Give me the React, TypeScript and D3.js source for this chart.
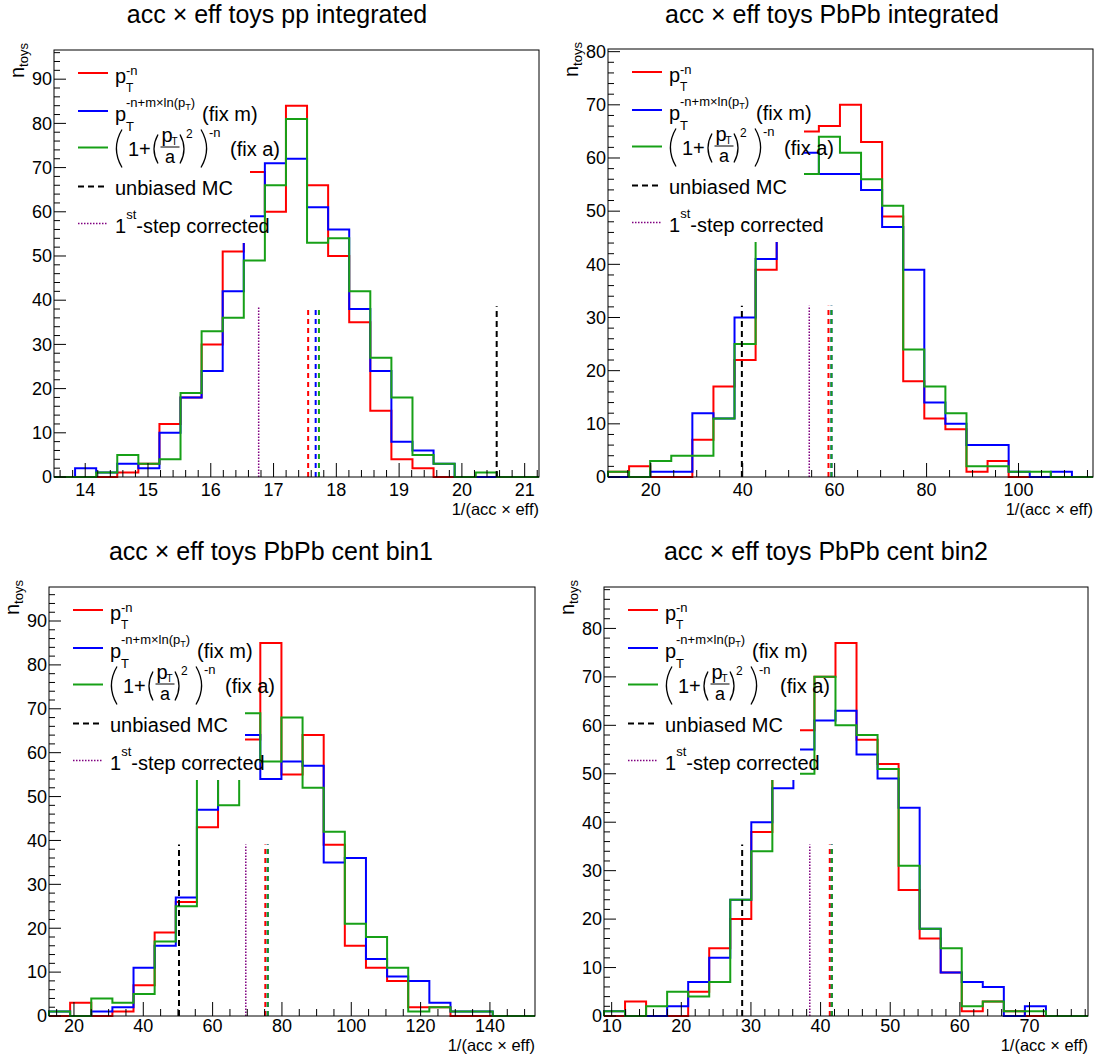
import React from "react";
import * as d3 from "d3";

const FONT = "'Liberation Sans', Arial, Helvetica, sans-serif";
const N_BINS = 23;

// ---------- data ----------
const titles = [
  "acc \u00d7 eff toys pp integrated",
  "acc \u00d7 eff toys PbPb integrated",
  "acc \u00d7 eff toys PbPb cent bin1",
  "acc \u00d7 eff toys PbPb cent bin2",
];

// x ranges of the histograms (23 equal bins each)
const ppRange = [13.503, 21.228];
const pbIntRange = [10.7, 116.2];
const cent1Range = [12.8, 153.0];
const cent2Range = [8.9, 78.4];

// counts per bin
const ppRed = [0, 0, 0, 1, 3, 12, 18, 30, 51, 69, 60, 84, 66, 50, 35, 15, 4, 2, 0, 0, 0, 0, 0];
const ppBlue = [0, 2, 1, 3, 2, 10, 18, 24, 42, 59, 71, 72, 61, 56, 38, 24, 8, 6, 3, 0, 0, 0, 0];
const ppGreen = [0, 0, 1, 5, 3, 4, 19, 33, 36, 49, 66, 81, 53, 54, 42, 27, 18, 5, 3, 0, 1, 0, 0];

const pbIntRed = [1, 2, 0, 0, 7, 17, 22, 39, 57, 65, 66, 70, 63, 49, 18, 11, 9, 1, 3, 0, 0, 0, 0];
const pbIntBlue = [0, 0, 1, 1, 12, 11, 30, 41, 51, 61, 57, 57, 54, 47, 39, 14, 10, 6, 6, 1, 0, 1, 0];
const pbIntGreen = [1, 0, 3, 4, 4, 11, 25, 48, 56, 57, 64, 61, 56, 51, 24, 17, 12, 2, 2, 1, 1, 0, 0];

const cent1Red = [0, 3, 0, 1, 7, 19, 26, 43, 56, 63, 85, 55, 64, 39, 16, 11, 8, 2, 2, 0, 0, 0, 0];
const cent1Blue = [1, 0, 1, 2, 11, 16, 27, 47, 56, 64, 54, 58, 57, 35, 36, 13, 9, 8, 3, 1, 1, 0, 0];
const cent1Green = [1, 0, 4, 3, 5, 17, 25, 55, 48, 69, 58, 68, 52, 42, 21, 18, 11, 1, 2, 1, 1, 0, 0];

const cent2Red = [0, 3, 0, 0, 5, 14, 20, 38, 49, 59, 70, 77, 57, 52, 26, 16, 9, 1, 3, 1, 0, 0, 0];
const cent2Blue = [1, 0, 0, 2, 7, 12, 24, 40, 47, 55, 61, 63, 54, 49, 43, 18, 9, 7, 6, 0, 2, 0, 0];
const cent2Green = [1, 0, 2, 5, 4, 7, 24, 34, 64, 50, 70, 60, 58, 51, 31, 18, 14, 2, 3, 1, 1, 0, 0];

// vertical lines: [red fit, blue fit, green fit, unbiased MC, 1st-step corrected]
const ppMarkers = [17.551, 17.671, 17.723, 20.554, 16.763];
const pbIntMarkers = [58.66, 59.31, 59.31, 39.82, 54.48];
const cent1Markers = [75.2, 75.9, 75.9, 50.3, 69.57];
const cent2Markers = [41.32, 41.61, 41.61, 28.74, 38.45];

// axis tick steps
const xMajorSteps = [1, 20, 20, 10];
const xMinorSteps = [0.2, 5, 5, 2];
const yMajorStep = 10;
const yMinorStep = 2;

// ---------- styles ----------
const RED = "#ff0000";
const BLUE = "#0000ff";
const GREEN = "#17a017";
const PURPLE = "#800080";

const panels = [
  { title: titles[0], range: ppRange, red: ppRed, blue: ppBlue, green: ppGreen, markers: ppMarkers,
    major: xMajorSteps[0], minor: xMinorSteps[0], fl: 54, fr: 539, ft: 50, fb: 477, titleX: 277, titleY: 23, labelDy: 19, axisTitleDy: 38 },
  { title: titles[1], range: pbIntRange, red: pbIntRed, blue: pbIntBlue, green: pbIntGreen, markers: pbIntMarkers,
    major: xMajorSteps[1], minor: xMinorSteps[1], fl: 608, fr: 1093, ft: 49, fb: 477, titleX: 832, titleY: 23, labelDy: 19, axisTitleDy: 38 },
  { title: titles[2], range: cent1Range, red: cent1Red, blue: cent1Blue, green: cent1Green, markers: cent1Markers,
    major: xMajorSteps[2], minor: xMinorSteps[2], fl: 49, fr: 535, ft: 587, fb: 1016, titleX: 271, titleY: 560, labelDy: 16, axisTitleDy: 35 },
  { title: titles[3], range: cent2Range, red: cent2Red, blue: cent2Blue, green: cent2Green, markers: cent2Markers,
    major: xMajorSteps[3], minor: xMinorSteps[3], fl: 604, fr: 1088, ft: 587, fb: 1016, titleX: 826, titleY: 560, labelDy: 16, axisTitleDy: 35 },
];

function tickValues(lo: number, hi: number, step: number): number[] {
  const out: number[] = [];
  const start = Math.ceil(lo / step - 1e-9);
  for (let k = start; k * step <= hi + 1e-9; k++) out.push(+(k * step).toFixed(6));
  return out;
}

function Paren({ x0, x1, top, bottom, left }: { x0: number; x1: number; top: number; bottom: number; left: boolean }) {
  const mid = (top + bottom) / 2;
  const d = left
    ? `M${x1},${top} Q${x0 - (x1 - x0) * 0.6},${mid} ${x1},${bottom}`
    : `M${x0},${top} Q${x1 + (x1 - x0) * 0.6},${mid} ${x0},${bottom}`;
  return <path d={d} fill="none" stroke="#000" strokeWidth={1.3} />;
}

function Legend({ fl, ft }: { fl: number; ft: number }) {
  const tx = fl + 61;
  const rows = [23, 61, 97.5, 136.5, 173.5].map((r) => ft + r);
  const lx0 = fl + 24;
  const lx1 = fl + 54;
  const r3 = rows[2];
  return (
    <g fontFamily={FONT} fill="#000">
      <rect x={fl + 14} y={ft + 4} width={182} height={189} fill="#fff" />
      <line x1={lx0} x2={lx1} y1={rows[0]} y2={rows[0]} stroke={RED} strokeWidth={2} />
      <line x1={lx0} x2={lx1} y1={rows[1]} y2={rows[1]} stroke={BLUE} strokeWidth={2} />
      <line x1={lx0} x2={lx1} y1={rows[2]} y2={rows[2]} stroke={GREEN} strokeWidth={2} />
      <line x1={lx0} x2={lx1} y1={rows[3]} y2={rows[3]} stroke="#000" strokeWidth={2} strokeDasharray="6,4" />
      <line x1={lx0} x2={lx1} y1={rows[4]} y2={rows[4]} stroke={PURPLE} strokeWidth={1.5} strokeDasharray="1.5,1.5" />

      {/* big parentheses and fraction bar of row 3 */}
      <Paren x0={tx} x1={tx + 7} top={r3 - 18} bottom={r3 + 20} left={true} />
      <Paren x0={tx + 38} x1={tx + 43} top={r3 - 13} bottom={r3 + 16} left={true} />
      <line x1={tx + 45.5} x2={tx + 64.5} y1={r3 - 0.5} y2={r3 - 0.5} stroke="#000" strokeWidth={1} />
      <Paren x0={tx + 65} x1={tx + 70} top={r3 - 13} bottom={r3 + 16} left={false} />
      <Paren x0={tx + 86} x1={tx + 93} top={r3 - 18} bottom={r3 + 20} left={false} />

      <text fontSize={20}>
        {/* row 1: pT^-n */}
        <tspan x={tx} y={rows[0] + 10}>p</tspan>
        <tspan x={tx + 11} y={rows[0] + 18.5} fontSize={12}>T</tspan>
        <tspan x={tx + 11} y={rows[0] + 2} fontSize={13}>-n</tspan>

        {/* row 2 */}
        <tspan x={tx} y={rows[1] + 10}>p</tspan>
        <tspan x={tx + 11} y={rows[1] + 20} fontSize={13}>T</tspan>
        <tspan x={tx + 11} y={rows[1] - 4.5} fontSize={13}>-n+m{"\u00d7"}ln(p</tspan>
        <tspan fontSize={9} dy={3}>T</tspan>
        <tspan fontSize={13} dy={-3}>)</tspan>
        <tspan x={tx + 87} y={rows[1] + 10}>(fix m)</tspan>

        {/* row 3 */}
        <tspan x={tx + 13} y={r3 + 8}>1+</tspan>
        <tspan x={tx + 46.5} y={r3 - 6}>p</tspan>
        <tspan x={tx + 56.5} y={r3 - 3} fontSize={10}>T</tspan>
        <tspan x={tx + 50} y={r3 + 15.5} fontSize={18}>a</tspan>
        <tspan x={tx + 71} y={r3 - 10} fontSize={12}>2</tspan>
        <tspan x={tx + 94} y={r3 - 10.5} fontSize={13}>-n</tspan>
        <tspan x={tx + 115} y={r3 + 8}>(fix a)</tspan>

        {/* row 4 */}
        <tspan x={tx} y={rows[3] + 8}>unbiased MC</tspan>

        {/* row 5 */}
        <tspan x={tx} y={rows[4] + 9}>1</tspan>
        <tspan fontSize={13} dy={-14}>st</tspan>
        <tspan dy={14}>-step corrected</tspan>
      </text>
    </g>
  );
}

function Panel({ p }: { p: any }) {
  const x = d3.scaleLinear().domain(p.range).range([p.fl, p.fr]);
  const ymax = 1.15 * (d3.max(p.red as number[]) as number);
  const y = d3.scaleLinear().domain([0, ymax]).range([p.fb, p.ft]);
  const bw = (p.range[1] - p.range[0]) / N_BINS;
  const line = d3.line<[number, number]>().x((d) => x(d[0])).y((d) => y(d[1]));
  const histPath = (vals: number[]) => {
    const pts: [number, number][] = [[p.range[0], 0]];
    vals.forEach((v, i) => {
      pts.push([p.range[0] + i * bw, v]);
      pts.push([p.range[0] + (i + 1) * bw, v]);
    });
    pts.push([p.range[1], 0]);
    return line(pts) as string;
  };
  const markerTop = 0.4 * ymax;
  const mk = p.markers as number[];
  const markerStyles = [
    { c: RED, w: 2, dash: "5,4" },
    { c: BLUE, w: 2, dash: "5,4" },
    { c: GREEN, w: 2, dash: "5,4" },
    { c: "#000", w: 2, dash: "6,4" },
    { c: PURPLE, w: 1.5, dash: "1.5,1.5" },
  ];
  const xMajor = tickValues(p.range[0], p.range[1], p.major);
  const xMinor = tickValues(p.range[0], p.range[1], p.minor).filter(
    (v) => Math.abs(v / p.major - Math.round(v / p.major)) > 1e-6
  );
  const yMajor = tickValues(0, ymax, yMajorStep);
  const yMinor = tickValues(0, ymax, yMinorStep).filter((v) => v % yMajorStep !== 0);

  return (
    <g>
      <text x={p.titleX} y={p.titleY} fontSize={25} fontFamily={FONT} textAnchor="middle">
        {p.title}
      </text>
      <path d={histPath(p.red)} fill="none" stroke={RED} strokeWidth={2} />
      <path d={histPath(p.blue)} fill="none" stroke={BLUE} strokeWidth={2} />
      <path d={histPath(p.green)} fill="none" stroke={GREEN} strokeWidth={2} />
      {mk.map((v, i) => (
        <line key={i} x1={x(v)} x2={x(v)} y1={y(0)} y2={y(markerTop)} stroke={markerStyles[i].c}
          strokeWidth={markerStyles[i].w} strokeDasharray={markerStyles[i].dash} />
      ))}
      <Legend fl={p.fl} ft={p.ft} />
      <rect x={p.fl} y={p.ft} width={p.fr - p.fl} height={p.fb - p.ft} fill="none" stroke="#000" strokeWidth={1} />
      {xMajor.map((v) => (
        <line key={"M" + v} x1={x(v)} x2={x(v)} y1={p.fb} y2={p.fb - 14} stroke="#000" strokeWidth={1} />
      ))}
      {xMinor.map((v) => (
        <line key={"m" + v} x1={x(v)} x2={x(v)} y1={p.fb} y2={p.fb - 7} stroke="#000" strokeWidth={1} />
      ))}
      {xMajor.map((v) => (
        <text key={"L" + v} x={x(v)} y={p.fb + p.labelDy} fontSize={18} fontFamily={FONT} textAnchor="middle">
          {v}
        </text>
      ))}
      {yMajor.map((v) => (
        <line key={"YM" + v} x1={p.fl} x2={p.fl + 12} y1={y(v)} y2={y(v)} stroke="#000" strokeWidth={1} />
      ))}
      {yMinor.map((v) => (
        <line key={"Ym" + v} x1={p.fl} x2={p.fl + 6} y1={y(v)} y2={y(v)} stroke="#000" strokeWidth={1} />
      ))}
      {yMajor.map((v) => (
        <text key={"YL" + v} x={p.fl - 2} y={y(v)} dy="0.35em" fontSize={18} fontFamily={FONT} textAnchor="end">
          {v}
        </text>
      ))}
      <text x={p.fr} y={p.fb + p.axisTitleDy} fontSize={16.5} fontFamily={FONT} textAnchor="end">
        1/(acc {"\u00d7"} eff)
      </text>
      <text transform={`translate(${p.fl - 30},${p.ft + 28}) rotate(-90)`} fontSize={20} fontFamily={FONT}>
        n<tspan fontSize={13} dy={4}>toys</tspan>
      </text>
    </g>
  );
}

export default function App() {
  return (
    <svg width={1097} height={1059} style={{ position: "absolute", left: 0, top: 0, background: "#fff" }}>
      <rect x={0} y={0} width={1097} height={1059} fill="#fff" />
      {panels.map((p, i) => (
        <Panel key={i} p={p} />
      ))}
    </svg>
  );
}
